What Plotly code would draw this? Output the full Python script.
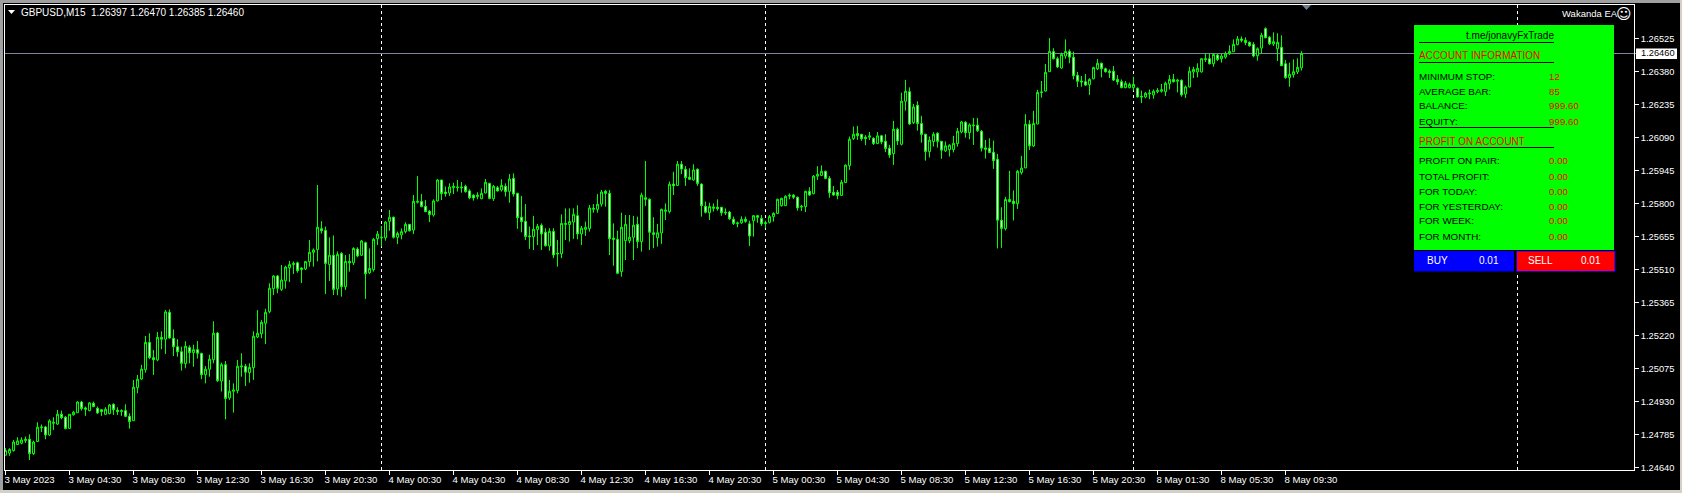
import plotly.graph_objects as go

# GBPUSD M15 prices in points (1e-5), one entry per bar
opens = [
    124694,124703,124714,124741,124747,124758,124764,124701,124754,124815,
    124818,124783,124834,124831,124874,124861,124812,124872,124881,124928,
    124902,124890,124922,124900,124894,124874,124877,124918,124892,124890,
    124890,124865,124846,124991,125029,125070,125190,125123,125113,125212,
    125204,125322,125208,125171,125149,125097,125167,125145,125158,125141,
    125048,125072,125114,125231,125020,125092,124946,124975,124978,125082,
    125085,125057,125079,125214,125228,125274,125325,125426,125482,125423,
    125461,125518,125532,125540,125517,125513,125545,125586,125598,125690,
    125682,125532,125573,125425,125581,125435,125546,125540,125600,125573,
    125628,125496,125510,125646,125649,125650,125722,125740,125652,125663,
    125677,125709,125684,125806,125809,125788,125766,125750,125812,125904,
    125851,125847,125870,125870,125873,125876,125856,125837,125831,125822,
    125847,125889,125822,125870,125860,125876,125854,125911,125845,125740,
    125722,125658,125655,125686,125705,125674,125614,125678,125582,125580,
    125708,125708,125719,125747,125667,125687,125690,125775,125775,125798,
    125854,125845,125648,125643,125501,125637,125637,125652,125709,125633,
    125826,125819,125672,125650,125671,125766,125765,125886,125880,125973,
    125951,125916,125904,125951,125886,125788,125760,125779,125784,125784,
    125763,125763,125731,125712,125716,125731,125711,125725,125747,125735,
    125716,125718,125743,125757,125791,125791,125837,125837,125828,125785,
    125787,125854,125844,125921,125924,125942,125911,125850,125850,125836,
    125893,125967,126086,126108,126105,126092,126092,126087,126064,126098,
    126074,126044,126020,126127,126061,126250,126292,126156,126232,126152,
    126105,126029,126073,126109,126074,126032,126038,126038,126064,126115,
    126158,126112,126142,126145,126118,126045,126044,126026,125995,125727,
    125690,125818,125811,125800,125937,125957,126149,126054,126150,126288,
    126295,126380,126468,126437,126396,126449,126469,126443,126364,126339,
    126336,126323,126349,126393,126417,126393,126382,126382,126346,126336,
    126310,126310,126310,126307,126272,126269,126282,126278,126292,126294,
    126292,126327,126346,126338,126342,126282,126313,126379,126379,126379,
    126437,126437,126415,126453,126437,126444,126459,126468,126499,126524,
    126518,126509,126500,126450,126484,126569,126531,126502,126481,126487,
    126415,126354,126367,126379,126397,
]
highs = [
    124725,124725,124761,124773,124773,124776,124786,124758,124839,124829,
    124823,124852,124861,124893,124890,124867,124875,124889,124931,124933,
    124908,124928,124930,124908,124897,124905,124919,124922,124905,124896,
    124918,124878,125025,125047,125091,125218,125230,125157,125236,125239,
    125332,125335,125247,125204,125171,125195,125177,125180,125196,125145,
    125086,125136,125283,125236,125101,125108,125025,125010,125113,125142,
    125095,125098,125239,125332,125288,125338,125450,125486,125486,125530,
    125527,125548,125546,125545,125520,125548,125640,125603,125882,125723,
    125699,125652,125660,125590,125587,125574,125578,125608,125608,125640,
    125633,125603,125649,125680,125702,125723,125772,125743,125677,125691,
    125718,125710,125838,125921,125842,125816,125772,125819,125908,125904,
    125875,125889,125892,125904,125895,125883,125863,125841,125850,125867,
    125908,125892,125882,125878,125907,125889,125930,125933,125848,125834,
    125798,125699,125746,125711,125713,125692,125692,125692,125640,125753,
    125779,125779,125779,125793,125702,125721,125794,125798,125842,125860,
    125860,125860,125713,125681,125760,125750,125750,125746,125743,125848,
    125987,125823,125740,125711,125778,125801,125897,125940,125987,125987,
    125965,125955,125973,125955,125889,125809,125804,125801,125819,125784,
    125779,125768,125743,125721,125744,125743,125725,125750,125750,125750,
    125725,125750,125762,125822,125826,125837,125845,125842,125831,125795,
    125857,125872,125926,125965,125968,125945,125921,125878,125860,125904,
    125973,126095,126139,126142,126105,126101,126115,126092,126115,126102,
    126105,126058,126164,126134,126288,126344,126311,126238,126250,126186,
    126107,126095,126114,126114,126075,126073,126061,126098,126133,126164,
    126162,126153,126177,126177,126124,126080,126087,126077,126019,125784,
    125830,125944,125858,125948,126010,126193,126167,126208,126300,126339,
    126414,126528,126483,126446,126464,126522,126478,126468,126379,126361,
    126370,126351,126402,126436,126420,126398,126390,126405,126365,126346,
    126339,126332,126358,126311,126297,126291,126302,126302,126308,126326,
    126336,126365,126370,126349,126346,126319,126402,126402,126417,126440,
    126461,126461,126461,126458,126458,126469,126496,126522,126537,126535,
    126531,126513,126510,126487,126551,126575,126537,126553,126549,126540,
    126431,126420,126434,126439,126470,
]
lows = [
    124694,124691,124710,124739,124742,124748,124673,124695,124752,124796,
    124764,124779,124805,124827,124852,124808,124811,124868,124880,124890,
    124867,124887,124905,124875,124867,124871,124874,124871,124871,124867,
    124861,124811,124845,124966,125025,125057,125116,125047,125107,125160,
    125139,125206,125130,125127,125066,125076,125098,125083,125119,125028,
    125010,125039,125098,125016,124974,124852,124937,124881,124966,125039,
    124998,125013,125025,125209,125208,125183,125318,125398,125406,125416,
    125426,125455,125491,125496,125451,125508,125523,125523,125546,125669,
    125403,125460,125398,125397,125391,125420,125501,125530,125564,125570,
    125381,125491,125501,125618,125611,125637,125681,125647,125622,125643,
    125669,125677,125666,125801,125784,125762,125719,125743,125809,125816,
    125831,125834,125842,125853,125848,125848,125819,125813,125819,125819,
    125845,125819,125812,125853,125853,125831,125804,125831,125689,125674,
    125640,125601,125596,125618,125596,125611,125593,125560,125523,125560,
    125640,125633,125645,125643,125618,125658,125677,125760,125760,125787,
    125787,125574,125527,125491,125479,125552,125626,125552,125604,125589,
    125790,125596,125604,125611,125623,125728,125757,125838,125878,125930,
    125878,125904,125901,125878,125743,125757,125728,125765,125769,125747,
    125750,125728,125706,125696,125711,125716,125614,125655,125716,125702,
    125692,125713,125721,125754,125787,125790,125819,125820,125769,125768,
    125763,125834,125841,125904,125921,125907,125826,125834,125819,125834,
    125890,125948,126080,126080,126076,126057,126080,126058,126063,126061,
    126026,126001,125970,126058,126056,126209,126146,126150,126121,126068,
    125989,126003,126051,126046,125997,126027,126007,126025,126051,126109,
    126090,126083,126058,126115,126029,125998,126022,125953,125603,125606,
    125682,125805,125726,125777,125928,125956,126036,126049,126149,126266,
    126292,126379,126434,126396,126393,126437,126417,126346,126313,126314,
    126317,126278,126346,126387,126355,126376,126352,126339,126323,126307,
    126307,126307,126297,126266,126242,126263,126259,126261,126285,126288,
    126273,126302,126333,126289,126270,126264,126311,126352,126355,126376,
    126423,126412,126402,126427,126420,126437,126453,126466,126496,126509,
    126497,126490,126443,126428,126461,126527,126497,126493,126427,126405,
    126349,126314,126354,126370,126385,
]
closes = [
    124714,124719,124752,124757,124761,124764,124701,124752,124817,124818,
    124783,124845,124839,124874,124859,124811,124874,124883,124928,124899,
    124896,124924,124908,124880,124886,124896,124915,124894,124886,124887,
    124865,124842,124993,125028,125072,125190,125123,125114,125212,125204,
    125324,125209,125171,125149,125098,125173,125145,125158,125142,125048,
    125072,125116,125230,125022,125092,124943,124975,124981,125085,125086,
    125059,125080,125217,125230,125278,125322,125428,125482,125428,125464,
    125521,125532,125537,125505,125511,125545,125586,125596,125696,125681,
    125537,125573,125423,125577,125435,125546,125540,125603,125570,125636,
    125492,125515,125643,125666,125652,125719,125740,125652,125669,125677,
    125709,125681,125810,125810,125787,125765,125752,125812,125904,125844,
    125844,125873,125876,125873,125870,125853,125826,125825,125837,125845,
    125894,125823,125876,125856,125880,125853,125908,125842,125738,125721,
    125655,125655,125687,125700,125667,125615,125678,125574,125579,125713,
    125713,125721,125753,125667,125692,125696,125781,125779,125797,125851,
    125845,125646,125643,125494,125696,125709,125652,125705,125633,125837,
    125819,125674,125665,125672,125775,125772,125885,125879,125973,125952,
    125914,125907,125948,125889,125791,125762,125787,125785,125778,125760,
    125760,125734,125713,125715,125731,125722,125658,125747,125740,125711,
    125713,125743,125757,125819,125823,125832,125834,125828,125781,125788,
    125854,125838,125921,125929,125942,125911,125848,125838,125836,125894,
    125969,126083,126105,126099,126085,126086,126098,126064,126098,126071,
    126042,126014,126127,126075,126250,126294,126150,126225,126152,126104,
    126029,126079,126105,126074,126035,126054,126057,126065,126118,126159,
    126112,126146,126145,126121,126044,126039,126025,125989,125727,125691,
    125818,125809,125800,125942,125956,126149,126054,126152,126289,126291,
    126377,126469,126437,126401,126456,126469,126444,126362,126338,126335,
    126321,126346,126398,126417,126393,126380,126377,126343,126336,126310,
    126329,126324,126324,126269,126269,126285,126286,126294,126297,126301,
    126329,126346,126336,126343,126278,126313,126382,126390,126395,126437,
    126434,126415,126456,126434,126449,126458,126469,126500,126524,126518,
    126508,126494,126449,126481,126540,126529,126503,126512,126509,126406,
    126354,126368,126380,126399,126460,
]

assert len(opens) == len(highs) == len(lows) == len(closes)

time_labels = [
    "3 May 2023", "3 May 04:30", "3 May 08:30", "3 May 12:30", "3 May 16:30", "3 May 20:30",
    "4 May 00:30", "4 May 04:30", "4 May 08:30", "4 May 12:30", "4 May 16:30", "4 May 20:30",
    "5 May 00:30", "5 May 04:30", "5 May 08:30", "5 May 12:30", "5 May 16:30", "5 May 20:30",
    "8 May 01:30", "8 May 05:30", "8 May 09:30",
]
price_ticks = [
    1.26525, 1.26380, 1.26235, 1.26090, 1.25945, 1.25800, 1.25655,
    1.25510, 1.25365, 1.25220, 1.25075, 1.24930, 1.24785, 1.24640,
]
separator_bars = [94, 190, 282, 378]
bid_price = 1.26460

account_rows = [("MINIMUM STOP:", "12"), ("AVERAGE BAR:", "85"), ("BALANCE:", "999.60"), ("EQUITY:", "999.60")]
profit_rows = [
    ("PROFIT ON PAIR:", "0.00"), ("TOTAL PROFIT:", "0.00"), ("FOR TODAY:", "0.00"),
    ("FOR YESTERDAY:", "0.00"), ("FOR WEEK:", "0.00"), ("FOR MONTH:", "0.00"),
]

GREEN = "#00ff00"
RED = "#ff0000"
FONT = "Liberation Sans"


# pixel position in the window -> paper fraction of the plot area
def px(x):
    return (x - 5) / 1629


def py(y):
    return (470 - y) / 465


bars = list(range(len(opens)))
fig = go.Figure(go.Candlestick(
    x=bars,
    open=[v / 1e5 for v in opens],
    high=[v / 1e5 for v in highs],
    low=[v / 1e5 for v in lows],
    close=[v / 1e5 for v in closes],
    increasing=dict(line=dict(color=GREEN, width=1), fillcolor="#000000"),
    decreasing=dict(line=dict(color=GREEN, width=1), fillcolor="#ffffff"),
    whiskerwidth=0,
    hoverinfo="skip",
    showlegend=False,
))

fig.update_layout(
    width=1682,
    height=493,
    margin=dict(l=5, r=48, t=5, b=23),
    paper_bgcolor="#000000",
    plot_bgcolor="#000000",
    boxgap=0.5,
    boxgroupgap=0,
    font=dict(family=FONT, size=10, color="#ffffff"),
    xaxis=dict(
        range=[-0.125, 407.125],
        rangeslider=dict(visible=False),
        tickmode="array",
        tickvals=[i * 16 for i in range(len(time_labels))],
        ticktext=time_labels,
        tickangle=0,
        automargin=False,
        ticks="outside",
        ticklen=4,
        tickcolor="#ffffff",
        tickfont=dict(family=FONT, size=9.6, color="#ffffff"),
        ticklabelposition="outside right",
        ticklabelshift=-2,
        showgrid=False,
        zeroline=False,
        showline=True,
        linecolor="#ffffff",
        linewidth=1,
        mirror=True,
    ),
    yaxis=dict(
        range=[1.24629, 1.266732],
        side="right",
        automargin=False,
        tickmode="array",
        tickvals=price_ticks,
        ticktext=[f"{p:.5f}" for p in price_ticks],
        ticks="outside",
        ticklen=4,
        tickcolor="#ffffff",
        tickfont=dict(family=FONT, size=9.3, color="#ffffff"),
        showgrid=False,
        zeroline=False,
        showline=True,
        linecolor="#ffffff",
        linewidth=1,
        mirror=True,
    ),
)

# day separators and bid line
for bar in separator_bars:
    fig.add_shape(type="line", x0=bar, x1=bar, yref="paper", y0=0, y1=1, layer="below",
                  line=dict(color="#ffffff", width=1, dash="3px,3px"))
fig.add_shape(type="line", xref="paper", x0=0, x1=px(1636), y0=bid_price, y1=bid_price, layer="below",
              line=dict(color="#778899", width=1))


def rect(x0, y0, x1, y1, color, line=None):
    fig.add_shape(type="rect", xref="paper", yref="paper",
                  x0=px(x0), x1=px(x1), y0=py(y0), y1=py(y1),
                  fillcolor=color, line=dict(color=line or color, width=1 if line else 0))


def hline(x0, x1, y, color="#000000"):
    fig.add_shape(type="line", xref="paper", yref="paper",
                  x0=px(x0), x1=px(x1), y0=py(y), y1=py(y), line=dict(color=color, width=1))


def label(x, y, text, color="#000000", anchor="left", size=9.8, family=FONT):
    fig.add_annotation(xref="paper", yref="paper", x=px(x), y=py(y), text=text, showarrow=False,
                       xanchor=anchor, yanchor="middle", borderpad=0,
                       font=dict(family=family, size=size, color=color))


# window frame
rect(0, 0, 1682, 3, "#a0a0a0")
rect(0, 0, 3, 493, "#a0a0a0")
rect(0, 490, 1682, 493, "#d4d0c8")
rect(1680, 0, 1682, 493, "#d4d0c8")

# header
fig.add_shape(type="path", xref="paper", yref="paper",
              path=f"M {px(8)} {py(10)} L {px(15)} {py(10)} L {px(11.5)} {py(14)} Z",
              fillcolor="#ffffff", line=dict(width=0))
label(19.5, 12.5, "GBPUSD,M15  1.26397 1.26470 1.26385 1.26460", "#ffffff", size=10)

# chart shift marker
fig.add_shape(type="path", xref="paper", yref="paper",
              path=f"M {px(1302)} {py(5)} L {px(1311)} {py(5)} L {px(1306.5)} {py(10)} Z",
              fillcolor="#708090", line=dict(width=0))

label(1561, 13.5, "Wakanda EA", "#ffffff", size=9.5)
label(1623.7, 13.5, "☺", "#ffffff", anchor="center", size=15, family="DejaVu Sans")

# bid price tag
rect(1636, 48.5, 1677, 59, "#ffffff")
label(1640, 53.5, f"{bid_price:.5f}", size=9.3)

# account panel
rect(1414, 25, 1614, 250, GREEN)
label(1555, 35.5, "t.me/jonavyFxTrade", anchor="right", size=10)
hline(1419, 1554, 42.5)
label(1417.5, 56, "ACCOUNT INFORMATION", RED, size=10)
hline(1419, 1554, 62.5)
for i, (name, value) in enumerate(account_rows):
    label(1417.5, 76 + 15 * i, name)
    label(1547.5, 76 + 15 * i, value, RED)
hline(1419, 1554, 127.5)
label(1417.5, 141, "PROFIT ON ACCOUNT", RED, size=10)
hline(1419, 1554, 147.5)
for i, (name, value) in enumerate(profit_rows):
    label(1417.5, 161 + 15 * i, name)
    label(1547.5, 161 + 15 * i, value, RED)

# order buttons
rect(1414, 251, 1514, 271.5, "#0000ff")
rect(1516.5, 251, 1615, 271.5, RED, line="#0000ff")
label(1426, 260.5, "BUY", "#ffffff", size=10)
label(1500, 260.5, "0.01", "#ffffff", anchor="right", size=10)
label(1527, 260.5, "SELL", "#ffffff", size=10)
label(1602, 260.5, "0.01", "#ffffff", anchor="right", size=10)

fig.write_html(
    "out.html",
    config={"displayModeBar": False},
    post_script="document.body.style.margin='0';document.body.style.overflow='hidden';",
)
